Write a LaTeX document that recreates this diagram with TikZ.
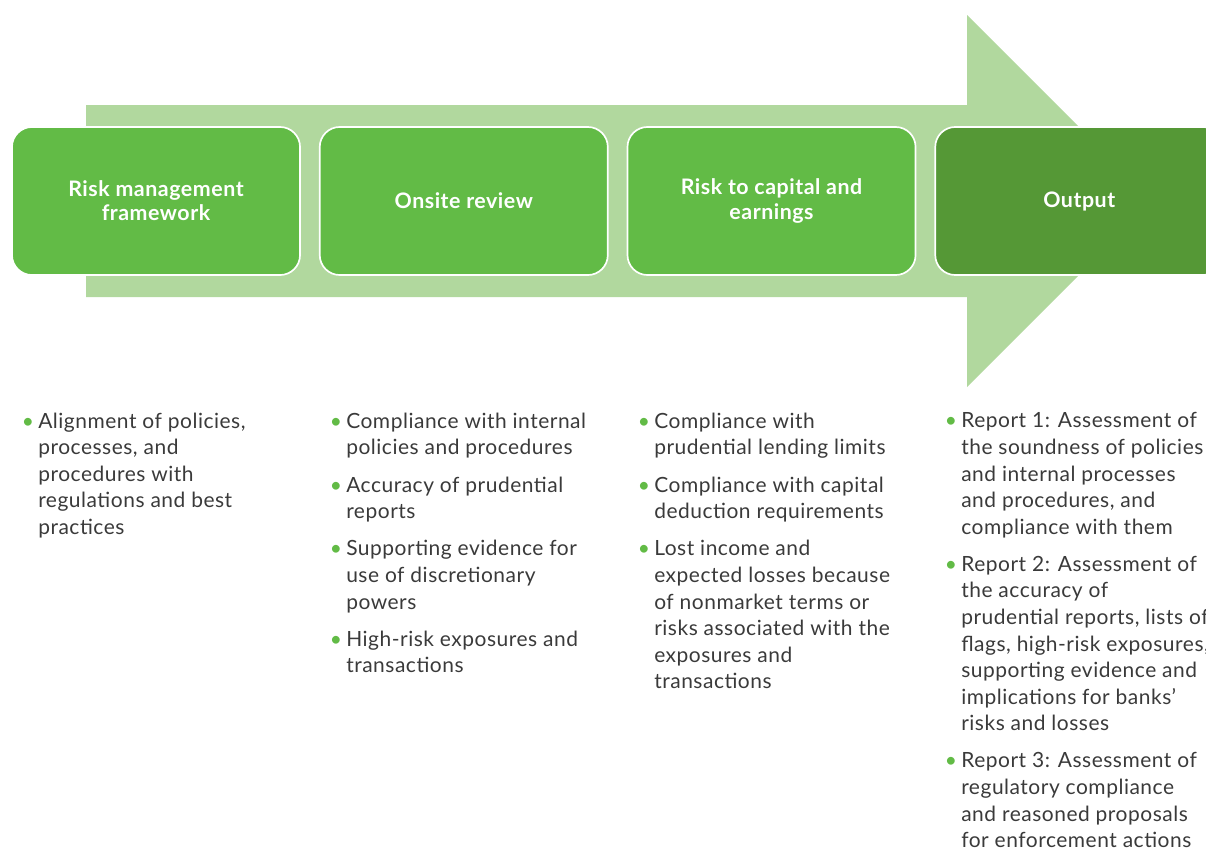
\documentclass[tikz,border=0pt]{standalone}
\usepackage{fontspec}
\setmainfont{Lato}[LetterSpace=2.5]
\usepackage{xcolor}
\usepackage{tikz}
\usetikzlibrary{positioning}
\definecolor{verde}{HTML}{62BB46}
\definecolor{verdeesc}{HTML}{559836}
\definecolor{verdeclaro}{HTML}{B1D89E}
\definecolor{cinza}{HTML}{3A3A3A}
\newcommand{\marca}{\llap{\textcolor{verde}{\textbullet}\hspace{3pt}}}

\begin{document}
\begin{tikzpicture}[x=0.025cm,y=-0.025cm,
        every node/.style={inner sep=0pt},
        etapa/.style={draw=white,line width=1.2pt,fill=verde,rounded corners=0.5cm,minimum width=7.2cm,minimum height=3.7cm,text=white,align=center,font=\bfseries\fontsize{15.2}{17.1}\selectfont},
        item/.style={anchor=north west,align=left,text=cinza,font=\fontsize{14.9}{18.9}\selectfont,execute at begin node=\strut,execute at end node=\strut},
      ]
      \useasboundingbox (0,0) rectangle (1206,850);
      \fill[verdeclaro] (86,105) -- (967,105) -- (967,15) -- (1153,201) -- (967,387) -- (967,297) -- (86,297) -- cycle;
      \node[etapa] (a) at (156,201) {Risk management\\framework};
      \node[etapa, right=0.45cm of a] (b) {Onsite review};
      \node[etapa, right=0.45cm of b] (c) {Risk to capital and\\earnings};
      \node[etapa, fill=verdeesc, right=0.45cm of c] (d) {Output};
      % first column
      \node[item] (p1) at (38,412.4) {\marca Alignment of policies,\\processes, and\\procedures with\\regulations and best\\practices};
      % second column
      \node[item] (q1) at (346,412.4) {\marca Compliance with internal\\policies and procedures};
      \node[item, below=9.5pt of q1.south west, anchor=north west] (q2) {\marca Accuracy of prudential\\reports};
      \node[item, below=9.5pt of q2.south west, anchor=north west] (q3) {\marca Supporting evidence for\\use of discretionary\\powers};
      \node[item, below=9.5pt of q3.south west, anchor=north west] (q4) {\marca High-risk exposures and\\transactions};
      % third column
      \node[item] (r1) at (654,412.4) {\marca Compliance with\\prudential lending limits};
      \node[item, below=9.5pt of r1.south west, anchor=north west] (r2) {\marca Compliance with capital\\deduction requirements};
      \node[item, below=9.5pt of r2.south west, anchor=north west] (r3) {\marca Lost income and\\expected losses because\\of nonmarket terms or\\risks associated with the\\exposures and\\transactions};
      % fourth column
      \node[item] (s1) at (961,412.4) {\marca Report 1: Assessment of\\the soundness of policies\\and internal processes\\and procedures, and\\compliance with them};
      \node[item, below=9.5pt of s1.south west, anchor=north west] (s2) {\marca Report 2: Assessment of\\the accuracy of\\prudential reports, lists of\\flags, high-risk exposures,\\supporting evidence and\\implications for banks’\\risks and losses};
      \node[item, below=9.5pt of s2.south west, anchor=north west] (s3) {\marca Report 3: Assessment of\\regulatory compliance\\and reasoned proposals\\for enforcement actions};
    \end{tikzpicture}
\end{document}
